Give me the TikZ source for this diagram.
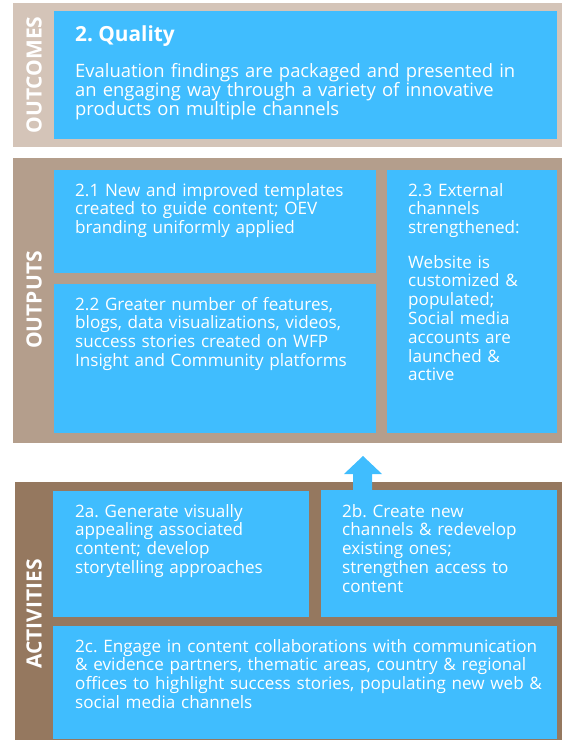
\documentclass[tikz,border=0pt]{standalone}
\usepackage{fontspec}
\setmainfont{Open Sans}
\frenchspacing
\definecolor{outcframe}{HTML}{D4C4B8}
\definecolor{outpframe}{HTML}{B49E8C}
\definecolor{actframe}{HTML}{95785F}
\definecolor{bluebox}{HTML}{40BDFE}
\begin{document}
\begin{tikzpicture}[x=1pt,y=-1pt,
  bluefill/.style={fill=bluebox},
  boxtext/.style={anchor=base west, inner sep=0pt, text=white, align=left,
    text width=#1, font=\fontsize{17.1}{18.8}\selectfont},
  boxtext/.default=480pt,
  sidelabel/.style={rotate=90, inner sep=0pt, text=white,
    font=\fontsize{21}{24}\selectfont\bfseries}]
\useasboundingbox (0,0) rectangle (564,740);
% frames
\fill[outcframe] (13,3) rectangle (562,147);
\fill[outpframe] (13,158) rectangle (562,443);
\fill[actframe] (15,482) rectangle (562,742);
% blue boxes
\fill[bluefill] (54,11) rectangle (557,139);
\fill[bluefill] (54,170) rectangle (376,273);
\fill[bluefill] (54,284) rectangle (376,433);
\fill[bluefill] (387,170) rectangle (557,433);
\fill[bluefill] (53,491) rectangle (309,617);
\fill[bluefill] (321,490) rectangle (557,617);
\fill[bluefill] (53,626) rectangle (557,739);
% block arrow
\fill[bluefill] (363,456) -- (382,474) -- (372,474) -- (372,491) -- (353,491) -- (353,474) -- (344,474) -- cycle;
% side labels
\node[sidelabel] (lout) at (34,75) {OUTCOMES};
\node[sidelabel] (lput) at (34,300) {OUTPUTS};
\node[sidelabel] (lact) at (34,614) {ACTIVITIES};
% texts
\node[anchor=base west, inner sep=0pt, text=white, font=\fontsize{20.8}{24}\selectfont\bfseries] (qt) at (75,41) {2. Quality};
\node[boxtext, font=\fontsize{18.4}{19}\selectfont] (qb) at (75,77.7) {Evaluation findings are packaged and presented in\\an engaging way through a variety of innovative\\products on multiple channels};
\node[boxtext] (t21) at (75,196) {2.1 New and improved templates\\created to guide content; OEV\\branding uniformly applied};
\node[boxtext] (t22) at (75,310) {2.2 Greater number of features,\\blogs, data visualizations, videos,\\success stories created on WFP\\Insight and Community platforms};
\node[boxtext=160pt] (t23) at (408,196) {2.3 External\\channels\\strengthened:\\[15.6pt]Website is\\customized \&\\populated;\\Social media\\accounts are\\launched \&\\active};
\node[boxtext] (t2a) at (75,517) {2a. Generate visually\\appealing associated\\content; develop\\storytelling approaches};
\node[boxtext] (t2b) at (342,517) {2b. Create new\\channels \& redevelop\\existing ones;\\strengthen access to\\content};
\node[boxtext] (t2c) at (75,652) {2c. Engage in content collaborations with communication\\\& evidence partners, thematic areas, country \& regional\\offices to highlight success stories, populating new web \&\\social media channels};
\end{tikzpicture}
\end{document}
